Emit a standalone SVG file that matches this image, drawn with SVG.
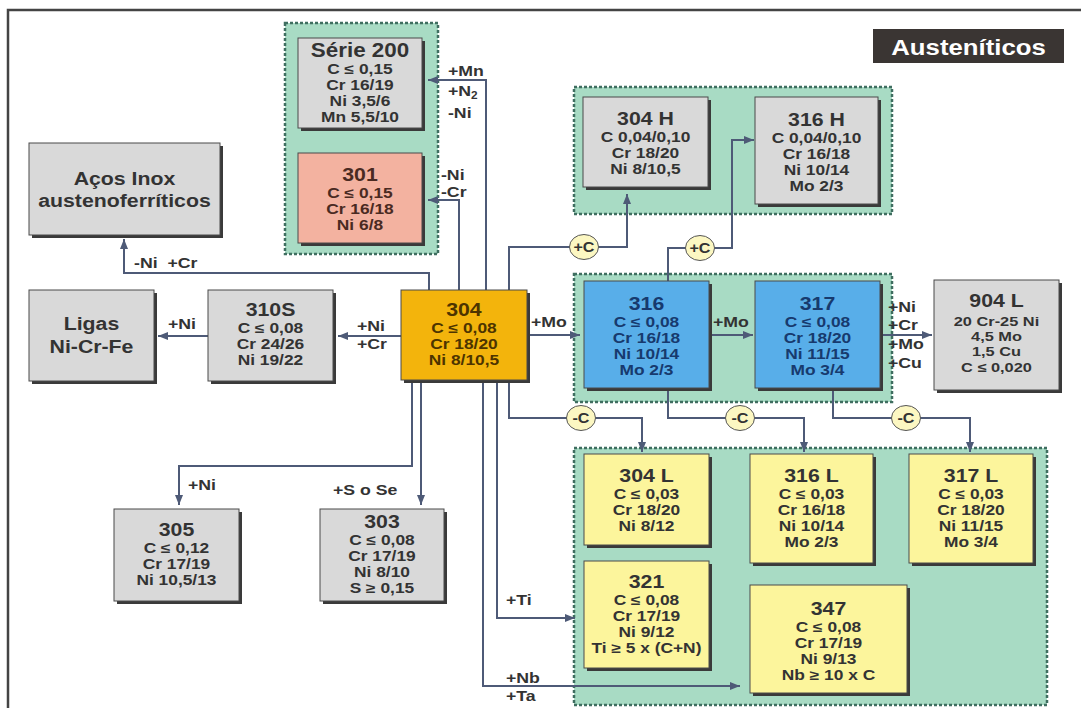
<svg xmlns="http://www.w3.org/2000/svg" width="1081" height="708" viewBox="0 0 1081 708">
<defs>
<style>
text{font-family:"Liberation Sans",Arial,sans-serif;font-weight:bold;}
.c{text-anchor:middle;transform-box:fill-box;transform-origin:center;}
.l{text-anchor:start;transform-box:fill-box;transform-origin:left center;}
.ti{font-size:19px;transform:scaleX(1.12);}
.t20{font-size:20px;transform:scaleX(1.12);}
.ln{font-size:14px;transform:scaleX(1.24);}
.sm{font-size:13px;transform:scaleX(1.26);}
.lb{font-size:15px;fill:#333;transform:scaleX(1.18);}
.ct{font-size:14px;fill:#333;transform:scaleX(1.15);}
.grp{fill:#a8dbc4;stroke:#3f6e60;stroke-width:2.5;stroke-dasharray:3 2;}
.sh{fill:#3a3a3a;}
.bx{stroke:#4a4a4a;stroke-width:1;}
.gray{fill:#d9d9d9;}
.gray~text{fill:#333;}
.org{fill:#f3b40c;}
.org~text{fill:#4d3400;}
.sal{fill:#f3b2a0;}
.sal~text{fill:#4a2a22;}
.blu{fill:#58aee9;}
.blu~text{fill:#173a6e;}
.yel{fill:#fcf59c;}
.yel~text{fill:#333;}
.cn{fill:none;stroke:#4e5a77;stroke-width:2;}
.cir{fill:#fcf7c2;stroke:#555;stroke-width:1;}
</style>
<marker id="ah" viewBox="0 0 10 8" refX="10" refY="4" markerWidth="10" markerHeight="8" markerUnits="userSpaceOnUse" orient="auto">
<path d="M0,0 L10,4 L0,8 z" fill="#4e5a77"/>
</marker>
</defs>

<g id="frame">
<path d="M8,708 V10 H1081" fill="none" stroke="#444" stroke-width="2.5"/>
</g>

<g id="title">
<rect x="873" y="29" width="191" height="34" fill="#3a3533"/>
<text class="c" x="968.5" y="55" style="font-size:23px;transform:scaleX(1.12)" fill="#fff">Austeníticos</text>
</g>

<g id="groups">
<rect class="grp" x="285" y="23" width="153" height="231"/>
<rect class="grp" x="574" y="87" width="318" height="127"/>
<rect class="grp" x="574" y="274" width="318" height="128"/>
<rect class="grp" x="574" y="448" width="473" height="257"/>
</g>

<g id="connectors">
<path class="cn" d="M486,290 V80 H428" marker-end="url(#ah)"/>
<path class="cn" d="M459,290 V200 H428" marker-end="url(#ah)"/>
<path class="cn" d="M429,290 V273 H124 V239" marker-end="url(#ah)"/>
<path class="cn" d="M401,336 H338" marker-end="url(#ah)"/>
<path class="cn" d="M208,336 H158" marker-end="url(#ah)"/>
<path class="cn" d="M412,380 V466 H179 V505" marker-end="url(#ah)"/>
<path class="cn" d="M421,380 V505" marker-end="url(#ah)"/>
<path class="cn" d="M483,380 V686 H740" marker-end="url(#ah)"/>
<path class="cn" d="M497,380 V618 H575" marker-end="url(#ah)"/>
<path class="cn" d="M527,335 H580" marker-end="url(#ah)"/>
<path class="cn" d="M509,290 V247 H627 V194" marker-end="url(#ah)"/>
<path class="cn" d="M668,281 V248 H732 V140 H754" marker-end="url(#ah)"/>
<path class="cn" d="M709,335 H753" marker-end="url(#ah)"/>
<path class="cn" d="M880,335 H932" marker-end="url(#ah)"/>
<path class="cn" d="M509,380 V418 H642 V452" marker-end="url(#ah)"/>
<path class="cn" d="M668,388 V418 H804 V452" marker-end="url(#ah)"/>
<path class="cn" d="M833,388 V418 H970 V452" marker-end="url(#ah)"/>
<ellipse class="cir" cx="584" cy="247" rx="14.5" ry="12.5"/>
<text class="c ct" x="584" y="252">+C</text>
<ellipse class="cir" cx="700" cy="248" rx="14.5" ry="12.5"/>
<text class="c ct" x="700" y="253">+C</text>
<ellipse class="cir" cx="581" cy="418" rx="14.5" ry="12.5"/>
<text class="c ct" x="581" y="423">-C</text>
<ellipse class="cir" cx="740" cy="418" rx="14.5" ry="12.5"/>
<text class="c ct" x="740" y="423">-C</text>
<ellipse class="cir" cx="906" cy="418" rx="14.5" ry="12.5"/>
<text class="c ct" x="906" y="423">-C</text>
<text class="l lb" x="448" y="76">+Mn</text>
<text class="l lb" x="448" y="96">+N<tspan style="font-size:10px" dy="3">2</tspan></text>
<text class="l lb" x="448" y="118">-Ni</text>
<text class="l lb" x="441" y="180">-Ni</text>
<text class="l lb" x="441" y="197">-Cr</text>
<text class="l lb" x="134" y="268" xml:space="preserve">-Ni  +Cr</text>
<text class="l lb" x="168" y="329">+Ni</text>
<text class="l lb" x="357" y="331">+Ni</text>
<text class="l lb" x="357" y="349">+Cr</text>
<text class="l lb" x="531" y="327">+Mo</text>
<text class="l lb" x="713" y="327">+Mo</text>
<text class="l lb" x="888" y="312">+Ni</text>
<text class="l lb" x="888" y="330">+Cr</text>
<text class="l lb" x="888" y="349">+Mo</text>
<text class="l lb" x="888" y="368">+Cu</text>
<text class="l lb" x="188" y="490">+Ni</text>
<text class="l lb" x="333" y="495">+S o Se</text>
<text class="l lb" x="506" y="605">+Ti</text>
<text class="l lb" x="506" y="683">+Nb</text>
<text class="l lb" x="506" y="701">+Ta</text>
</g>

<g id="serie200">
<rect class="sh" x="301" y="41" width="124" height="90"/>
<rect class="bx gray" x="298" y="38" width="124" height="90"/>
<text class="c t20" x="360" y="57">Série 200</text>
<text class="c ln" x="360" y="74">C ≤ 0,15</text>
<text class="c ln" x="360" y="90">Cr 16/19</text>
<text class="c ln" x="360" y="106">Ni 3,5/6</text>
<text class="c ln" x="360" y="122">Mn 5,5/10</text>
</g>

<g id="n301">
<rect class="sh" x="301" y="156" width="124" height="90"/>
<rect class="bx sal" x="298" y="153" width="124" height="90"/>
<text class="c ti" x="360" y="181">301</text>
<text class="c ln" x="360" y="198">C ≤ 0,15</text>
<text class="c ln" x="360" y="214">Cr 16/18</text>
<text class="c ln" x="360" y="230">Ni 6/8</text>
</g>

<g id="acos">
<rect class="sh" x="32" y="146" width="191" height="92"/>
<rect class="bx gray" x="29" y="143" width="191" height="92"/>
<text class="c ti" x="124.5" y="185">Aços Inox</text>
<text class="c ti" x="124.5" y="207">austenoferríticos</text>
</g>

<g id="ligas">
<rect class="sh" x="32" y="293" width="125" height="91"/>
<rect class="bx gray" x="29" y="290" width="125" height="91"/>
<text class="c ti" x="91.5" y="330">Ligas</text>
<text class="c ti" x="91.5" y="353">Ni-Cr-Fe</text>
</g>

<g id="n310s">
<rect class="sh" x="211" y="293" width="125" height="91"/>
<rect class="bx gray" x="208" y="290" width="125" height="91"/>
<text class="c ti" x="270.5" y="316">310S</text>
<text class="c ln" x="270.5" y="333">C ≤ 0,08</text>
<text class="c ln" x="270.5" y="349">Cr 24/26</text>
<text class="c ln" x="270.5" y="365">Ni 19/22</text>
</g>

<g id="n304">
<rect class="sh" x="404" y="293" width="126" height="90"/>
<rect class="bx org" x="401" y="290" width="126" height="90"/>
<text class="c ti" x="464" y="316">304</text>
<text class="c ln" x="464" y="333">C ≤ 0,08</text>
<text class="c ln" x="464" y="349">Cr 18/20</text>
<text class="c ln" x="464" y="365">Ni 8/10,5</text>
</g>

<g id="n304h">
<rect class="sh" x="586" y="100" width="125" height="90"/>
<rect class="bx gray" x="583" y="97" width="125" height="90"/>
<text class="c ti" x="645.5" y="125">304 H</text>
<text class="c ln" x="645.5" y="142">C 0,04/0,10</text>
<text class="c ln" x="645.5" y="158">Cr 18/20</text>
<text class="c ln" x="645.5" y="174">Ni 8/10,5</text>
</g>

<g id="n316h">
<rect class="sh" x="758" y="100" width="123" height="107"/>
<rect class="bx gray" x="755" y="97" width="123" height="107"/>
<text class="c ti" x="816.5" y="126">316 H</text>
<text class="c ln" x="816.5" y="143">C 0,04/0,10</text>
<text class="c ln" x="816.5" y="159">Cr 16/18</text>
<text class="c ln" x="816.5" y="175">Ni 10/14</text>
<text class="c ln" x="816.5" y="191">Mo 2/3</text>
</g>

<g id="n316">
<rect class="sh" x="587" y="284" width="125" height="107"/>
<rect class="bx blu" x="584" y="281" width="125" height="107"/>
<text class="c ti" x="646.5" y="310">316</text>
<text class="c ln" x="646.5" y="327">C ≤ 0,08</text>
<text class="c ln" x="646.5" y="343">Cr 16/18</text>
<text class="c ln" x="646.5" y="359">Ni 10/14</text>
<text class="c ln" x="646.5" y="375">Mo 2/3</text>
</g>

<g id="n317">
<rect class="sh" x="758" y="284" width="125" height="107"/>
<rect class="bx blu" x="755" y="281" width="125" height="107"/>
<text class="c ti" x="817.5" y="310">317</text>
<text class="c ln" x="817.5" y="327">C ≤ 0,08</text>
<text class="c ln" x="817.5" y="343">Cr 18/20</text>
<text class="c ln" x="817.5" y="359">Ni 11/15</text>
<text class="c ln" x="817.5" y="375">Mo 3/4</text>
</g>

<g id="n904l">
<rect class="sh" x="937" y="283" width="125" height="110"/>
<rect class="bx gray" x="934" y="280" width="125" height="110"/>
<text class="c ti" x="996.5" y="307">904 L</text>
<text class="c sm" x="996.5" y="326">20 Cr-25 Ni</text>
<text class="c sm" x="996.5" y="341">4,5 Mo</text>
<text class="c sm" x="996.5" y="356">1,5 Cu</text>
<text class="c sm" x="996.5" y="372">C ≤ 0,020</text>
</g>

<g id="n304l">
<rect class="sh" x="587" y="457" width="125" height="91"/>
<rect class="bx yel" x="584" y="454" width="125" height="91"/>
<text class="c ti" x="646.5" y="482">304 L</text>
<text class="c ln" x="646.5" y="499">C ≤ 0,03</text>
<text class="c ln" x="646.5" y="515">Cr 18/20</text>
<text class="c ln" x="646.5" y="531">Ni 8/12</text>
</g>

<g id="n316l">
<rect class="sh" x="753" y="457" width="123" height="109"/>
<rect class="bx yel" x="750" y="454" width="123" height="109"/>
<text class="c ti" x="811.5" y="482">316 L</text>
<text class="c ln" x="811.5" y="499">C ≤ 0,03</text>
<text class="c ln" x="811.5" y="515">Cr 16/18</text>
<text class="c ln" x="811.5" y="531">Ni 10/14</text>
<text class="c ln" x="811.5" y="547">Mo 2/3</text>
</g>

<g id="n317l">
<rect class="sh" x="912" y="457" width="124" height="109"/>
<rect class="bx yel" x="909" y="454" width="124" height="109"/>
<text class="c ti" x="971" y="482">317 L</text>
<text class="c ln" x="971" y="499">C ≤ 0,03</text>
<text class="c ln" x="971" y="515">Cr 18/20</text>
<text class="c ln" x="971" y="531">Ni 11/15</text>
<text class="c ln" x="971" y="547">Mo 3/4</text>
</g>

<g id="n321">
<rect class="sh" x="587" y="564" width="125" height="107"/>
<rect class="bx yel" x="584" y="561" width="125" height="107"/>
<text class="c ti" x="646.5" y="588">321</text>
<text class="c ln" x="646.5" y="605">C ≤ 0,08</text>
<text class="c ln" x="646.5" y="621">Cr 17/19</text>
<text class="c ln" x="646.5" y="637">Ni 9/12</text>
<text class="c ln" x="646.5" y="653">Ti ≥ 5 x (C+N)</text>
</g>

<g id="n347">
<rect class="sh" x="753" y="588" width="157" height="108"/>
<rect class="bx yel" x="750" y="585" width="157" height="108"/>
<text class="c ti" x="828.5" y="615">347</text>
<text class="c ln" x="828.5" y="632">C ≤ 0,08</text>
<text class="c ln" x="828.5" y="648">Cr 17/19</text>
<text class="c ln" x="828.5" y="664">Ni 9/13</text>
<text class="c ln" x="828.5" y="680">Nb ≥ 10 x C</text>
</g>

<g id="n305">
<rect class="sh" x="117" y="512" width="125" height="92"/>
<rect class="bx gray" x="114" y="509" width="125" height="92"/>
<text class="c ti" x="176.5" y="536">305</text>
<text class="c ln" x="176.5" y="553">C ≤ 0,12</text>
<text class="c ln" x="176.5" y="569">Cr 17/19</text>
<text class="c ln" x="176.5" y="585">Ni 10,5/13</text>
</g>

<g id="n303">
<rect class="sh" x="323" y="512" width="124" height="92"/>
<rect class="bx gray" x="320" y="509" width="124" height="92"/>
<text class="c ti" x="382" y="528">303</text>
<text class="c ln" x="382" y="545">C ≤ 0,08</text>
<text class="c ln" x="382" y="561">Cr 17/19</text>
<text class="c ln" x="382" y="577">Ni 8/10</text>
<text class="c ln" x="382" y="593">S ≥ 0,15</text>
</g>
</svg>
